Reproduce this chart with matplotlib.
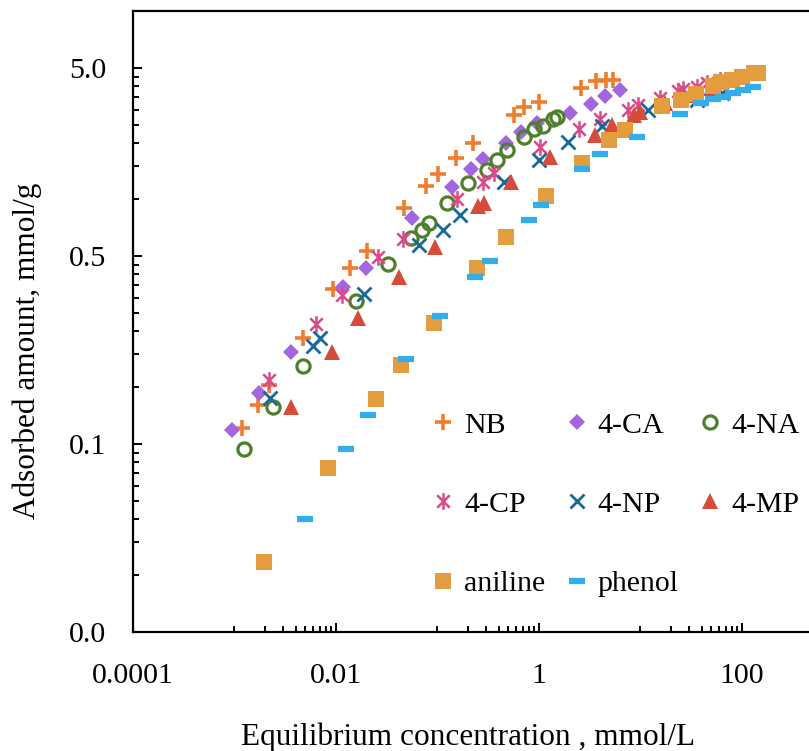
import matplotlib
matplotlib.use("Agg")
import matplotlib.pyplot as plt
from matplotlib.path import Path
from matplotlib.ticker import FixedLocator, NullFormatter
import numpy as np

plt.rcParams['font.family'] = ['Liberation Serif', 'DejaVu Serif']

# equilibrium concentration (mmol/L) and adsorbed amount (mmol/g) per compound
nb_x = [0.00118, 0.00172, 0.00220, 0.00476, 0.0094, 0.0137, 0.0201, 0.0471, 0.077, 0.1005,
        0.152, 0.222, 0.571, 0.712, 0.993, 2.575, 3.643, 4.603, 5.358]
nb_y = [0.0610, 0.0806, 0.103, 0.182, 0.334, 0.433, 0.532, 0.897, 1.18, 1.36,
        1.65, 2.00, 2.81, 3.09, 3.30, 3.89, 4.25, 4.33, 4.33]

ca_x = [0.000951, 0.00176, 0.0036, 0.0118, 0.0196, 0.0557, 0.138, 0.214, 0.279, 0.470,
        0.660, 0.949, 2.034, 3.232, 4.469, 6.237]
ca_y = [0.0594, 0.0930, 0.155, 0.343, 0.430, 0.793, 1.17, 1.45, 1.64, 2.00,
        2.29, 2.54, 2.89, 3.21, 3.55, 3.82]

na_x = [0.00125, 0.00241, 0.00476, 0.0157, 0.0328, 0.0548, 0.0704, 0.0834, 0.124, 0.200,
        0.305, 0.383, 0.481, 0.712, 0.899, 1.088, 1.365, 1.515]
na_y = [0.0470, 0.0789, 0.1305, 0.288, 0.452, 0.623, 0.687, 0.749, 0.954, 1.22,
        1.44, 1.62, 1.82, 2.14, 2.36, 2.46, 2.69, 2.75]

cp_x = [0.00220, 0.00635, 0.0114, 0.0259, 0.0460, 0.155, 0.281, 0.364, 1.023, 2.495,
        3.99, 7.53, 9.51, 15.46, 23.57, 26.4, 35.8, 44.9, 60.7]
cp_y = [0.1095, 0.216, 0.310, 0.491, 0.613, 1.01, 1.24, 1.38, 1.91, 2.36,
        2.67, 2.99, 3.18, 3.45, 3.79, 3.85, 3.98, 4.15, 4.32]

np_x = [0.00224, 0.00598, 0.00688, 0.0188, 0.0653, 0.113, 0.167, 0.452, 1.007, 1.944,
        4.147, 11.86, 36.0, 63.5]
np_y = [0.0875, 0.165, 0.182, 0.313, 0.572, 0.690, 0.826, 1.24, 1.62, 2.01,
        2.46, 3.00, 3.38, 3.68]

mp_x = [0.0036, 0.00907, 0.0166, 0.0420, 0.0945, 0.248, 0.288, 0.530, 1.284, 3.562,
        5.203, 8.57, 9.89, 17.4, 30.7, 50.6]
mp_y = [0.0789, 0.155, 0.233, 0.388, 0.560, 0.923, 0.957, 1.23, 1.69, 2.19,
        2.49, 2.82, 2.93, 3.26, 3.59, 3.91]

an_x = [0.00195, 0.0084, 0.0246, 0.0437, 0.0923, 0.243, 0.470, 1.172, 2.634, 4.928,
        7.04, 16.3, 24.9, 35.5, 51.6, 61.8, 80.1, 101.1, 131.9, 144.8]
an_y = [0.01183, 0.0371, 0.0865, 0.132, 0.221, 0.430, 0.633, 1.04, 1.56, 2.07,
        2.34, 3.14, 3.37, 3.65, 4.01, 4.19, 4.32, 4.49, 4.69, 4.72]

ph_x = [0.00495, 0.0125, 0.0205, 0.0489, 0.105, 0.234, 0.329, 0.797, 1.039, 2.671,
        3.99, 9.34, 24.7, 39.7, 51.8, 65.0, 81.5, 103.0, 129.2]
ph_y = [0.01995, 0.0468, 0.0713, 0.141, 0.240, 0.388, 0.469, 0.777, 0.934, 1.45,
        1.74, 2.15, 2.86, 3.26, 3.40, 3.52, 3.67, 3.82, 3.94]

x_ticks = [1e-4, 1e-2, 1, 100]
x_tick_labels = ['0.0001', '0.01', '1', '100']
y_ticks = [0.005, 0.05, 0.5, 5]
y_tick_labels = ['0.0', '0.1', '0.5', '5.0']

# Excel-like asterisk: an X with a vertical bar through it
star = Path([(-0.75, -0.75), (0.75, 0.75), (-0.75, 0.75), (0.75, -0.75), (0, -1), (0, 1)],
            [Path.MOVETO, Path.LINETO, Path.MOVETO, Path.LINETO, Path.MOVETO, Path.LINETO])

fig = plt.figure(figsize=(8.09, 7.51), dpi=100)
ax = fig.add_axes([0.1644, 0.1585, 1.0037, 0.8264])

s_nb, = ax.plot(nb_x, nb_y, ls='none', marker='+', ms=12, mew=2.6, color='#F07C2E', label='NB')
s_ca, = ax.plot(ca_x, ca_y, ls='none', marker='D', ms=8.5, mew=0, color='#A466E0', label='4-CA')
s_na, = ax.plot(na_x, na_y, ls='none', marker='o', ms=9.5, mew=2.3, mfc='none', color='#4E7F2B', label='4-NA')
s_cp, = ax.plot(cp_x, cp_y, ls='none', marker=star, ms=12, mew=1.8, color='#DB4A8B', label='4-CP')
s_np, = ax.plot(np_x, np_y, ls='none', marker='x', ms=10.5, mew=2, color='#17699C', label='4-NP')
s_mp, = ax.plot(mp_x, mp_y, ls='none', marker='^', ms=11, mew=0, color='#D74B3B', label='4-MP')
s_an, = ax.plot(an_x, an_y, ls='none', marker='s', ms=11, mew=0, color='#E39D3F', label='aniline')
s_ph, = ax.plot(ph_x, ph_y, ls='none', marker='_', ms=11, mew=4.5, color='#33AEEA', label='phenol')

ax.set_xscale('log')
ax.set_yscale('log')
ax.set_xlim(1e-4, 1e4)
ax.set_ylim(0.005, 10)

ax.xaxis.set_major_locator(FixedLocator(x_ticks))
ax.set_xticklabels(x_tick_labels)
x_minor = [10.0 ** (e + 1) * k for e in (-4, -2, 0, 2) for k in range(1, 10)]
ax.xaxis.set_minor_locator(FixedLocator(x_minor))
ax.xaxis.set_minor_formatter(NullFormatter())

ax.yaxis.set_major_locator(FixedLocator(y_ticks))
ax.set_yticklabels(y_tick_labels)
y_minor = [v * k for v in y_ticks for k in range(2, 10) if v * k <= 10]
ax.yaxis.set_minor_locator(FixedLocator(y_minor))
ax.yaxis.set_minor_formatter(NullFormatter())

ax.tick_params(which='both', direction='in', width=1.4, labelsize=21.5, top=False, right=False)
ax.tick_params(which='major', length=6.5)
ax.tick_params(which='minor', length=4.5)
ax.tick_params(axis='y', which='major', pad=19)
ax.tick_params(axis='x', which='major', pad=22.5)
for side in ax.spines.values():
    side.set_linewidth(1.6)

ax.set_xlabel('Equilibrium concentration , mmol/L', fontsize=22.5, va='center')
ax.set_ylabel('Adsorbed amount, mmol/g', fontsize=22.5, va='center')
ax.xaxis.set_label_coords(0.4126, -0.17)
ax.yaxis.set_label_coords(-0.1305, 0.453)

# legend laid out row by row: NB / 4-CA / 4-NA, then 4-CP / 4-NP / 4-MP, then aniline / phenol
order = [s_nb, s_cp, s_an, s_ca, s_np, s_ph, s_na, s_mp]
ax.legend(handles=order, ncol=3, frameon=False, fontsize=21.5, loc='upper left',
          bbox_to_anchor=(0.351, 0.374), handlelength=0.9, handletextpad=0.25,
          labelspacing=1.75, columnspacing=0.6, borderaxespad=0)

fig.savefig('out.png', dpi=100)
